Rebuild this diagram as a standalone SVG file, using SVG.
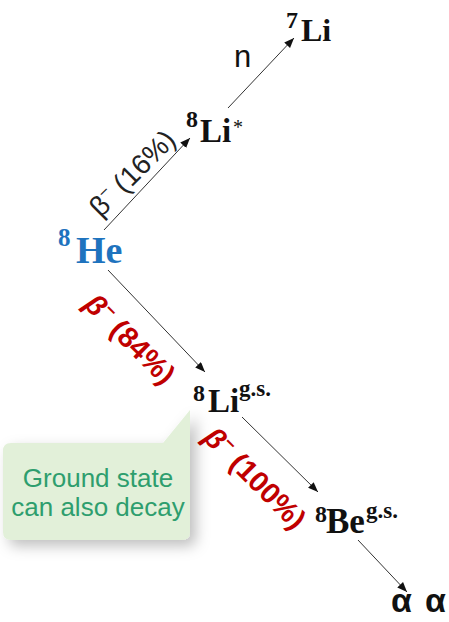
<svg xmlns="http://www.w3.org/2000/svg" width="449" height="622" viewBox="0 0 449 622">
  <defs>
    <marker id="arrow" markerUnits="userSpaceOnUse" markerWidth="11" markerHeight="8" refX="10" refY="4" orient="auto">
      <path d="M0,0 L10,4 L0,8 z" fill="#111"/>
    </marker>
    <filter id="shadow" x="-20%" y="-20%" width="160%" height="160%">
      <feDropShadow dx="6" dy="6" stdDeviation="7" flood-color="#000" flood-opacity="0.25"/>
    </filter>
    <style>
      .nuc { font-family: "Liberation Serif", "Times New Roman", serif; font-weight: bold; fill: #111; }
      .he { fill: #1e73be; }
      .sans { font-family: "Liberation Sans", Arial, sans-serif; }
      .edge { stroke: #333; stroke-width: 1; fill: none; marker-end: url(#arrow); }
      .red { fill: #c00000; font-weight: bold; }
      .note { font-family: "Liberation Sans", Arial, sans-serif; font-size: 26px; fill: #2e9e6e; text-anchor: middle; }
    </style>
  </defs>

  <rect width="449" height="622" fill="#fff"/>

  <!-- connectors -->
  <g id="connectors">
    <line class="edge" x1="104" y1="230" x2="190" y2="138"/>
    <line class="edge" x1="228" y1="108" x2="294" y2="38"/>
    <line class="edge" x1="108" y1="270" x2="205" y2="372"/>
    <line class="edge" x1="242" y1="417" x2="318" y2="492"/>
    <line class="edge" x1="358" y1="540" x2="407" y2="592"/>
  </g>

  <!-- decay-branch labels -->
  <g id="labels">
    <text class="sans" font-size="31" x="234" y="67" fill="#111">n</text>
    <text class="sans" font-size="28" fill="#222" text-anchor="middle" transform="translate(139,180) rotate(-45)">β<tspan font-size="17" dy="-11">−</tspan><tspan dy="11"> (16%)</tspan></text>
    <text class="sans red" font-size="29" text-anchor="middle" transform="translate(123,346) rotate(45)"><tspan font-style="italic">β</tspan><tspan font-size="18" dy="-11">−</tspan><tspan dy="11"> (84%)</tspan></text>
    <text class="sans red" font-size="29" text-anchor="middle" transform="translate(248,485) rotate(45)"><tspan font-style="italic">β</tspan><tspan font-size="18" dy="-11">−</tspan><tspan dy="11"> (100%)</tspan></text>
  </g>

  <!-- nuclei -->
  <g id="li7">
    <text class="nuc"><tspan x="286" y="28" font-size="24">7</tspan><tspan x="301" y="41" font-size="32">Li</tspan></text>
  </g>
  <g id="li8-excited">
    <text class="nuc"><tspan x="186" y="127" font-size="24">8</tspan><tspan x="200" y="142" font-size="33">Li</tspan><tspan x="233" y="134" font-size="20" font-weight="normal">*</tspan></text>
  </g>
  <g id="he8">
    <text class="nuc he"><tspan x="58" y="246" font-size="25">8</tspan><tspan x="76" y="263" font-size="38">He</tspan></text>
  </g>
  <g id="li8-gs">
    <text class="nuc"><tspan x="193" y="401" font-size="24">8</tspan><tspan x="208" y="412" font-size="33">Li</tspan><tspan x="239" y="396" font-size="23">g.s.</tspan></text>
  </g>
  <g id="be8-gs">
    <text class="nuc"><tspan x="315" y="522" font-size="24">8</tspan><tspan x="326" y="533" font-size="35">Be</tspan><tspan x="366" y="518" font-size="23">g.s.</tspan></text>
  </g>
  <g id="alpha">
    <text class="sans" font-size="34" font-weight="bold" fill="#111"><tspan x="391" y="612">α</tspan><tspan x="425" y="612">α</tspan></text>
  </g>

  <!-- callout -->
  <g id="callout">
    <path d="M11,443 H163 L190,410 V532 Q190,540 182,540 H11 Q3,540 3,532 V451 Q3,443 11,443 Z" fill="#e2f0d9" filter="url(#shadow)"/>
    <text class="note" x="98" y="487">Ground state</text>
    <text class="note" x="98" y="516">can also decay</text>
  </g>
</svg>
